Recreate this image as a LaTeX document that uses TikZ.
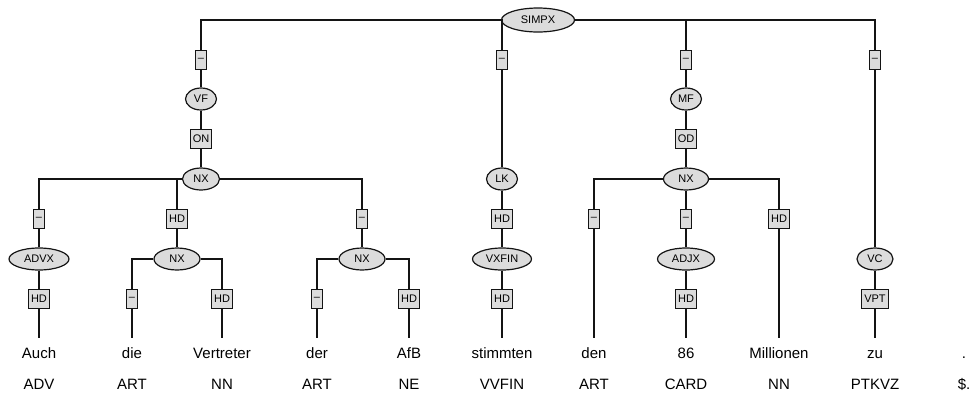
\documentclass[tikz,border=0pt]{standalone}
\usepackage{fontspec}
\setmainfont{Liberation Sans}
\usetikzlibrary{shapes.geometric}
\definecolor{nodefill}{RGB}{220,220,220}
\definecolor{linecol}{RGB}{20,20,20}
\begin{document}
\begin{tikzpicture}[x=1pt,y=-1pt, line width=1.2pt, draw=linecol,
 cat/.style={ellipse, draw=linecol, fill=nodefill, inner sep=0pt, minimum height=22pt, minimum width=#1, font=\fontsize{11}{13}\selectfont},
 lab/.style={rectangle, draw=linecol, fill=nodefill, inner xsep=2.5pt, inner ysep=0pt, minimum height=19pt, font=\fontsize{11}{13}\selectfont},
 word/.style={font=\fontsize{15}{18}\selectfont, inner xsep=0pt, inner ysep=8pt, text height=11pt, text depth=3pt, anchor=base},
 postag/.style={font=\fontsize{15}{18}\selectfont, inner sep=0pt, anchor=base}]
\useasboundingbox (0,0) rectangle (974,394);
% level 0
\node[cat=73pt, minimum height=24pt] (simpx) at (538,20) {SIMPX};
% level 1 edge labels
\node[lab] (e1) at (201,60) {–};
\node[lab] (e2) at (502,60) {–};
\node[lab] (e3) at (686,60) {–};
\node[lab] (e4) at (875,60) {–};
% fields
\node[cat=31pt] (vf) at (201,99) {VF};
\node[cat=31pt] (mf) at (686,99) {MF};
\node[lab] (on) at (201,139) {ON};
\node[lab] (od) at (686,139) {OD};
\node[cat=37pt] (nx1) at (201,179) {NX};
\node[cat=31pt] (lk) at (502,179) {LK};
\node[cat=45pt] (nx2) at (686,179) {NX};
% level 3 edge labels
\node[lab] (f1) at (39,219) {–};
\node[lab] (f2) at (177,219) {HD};
\node[lab] (f3) at (362,219) {–};
\node[lab] (f4) at (502,219) {HD};
\node[lab] (f5) at (594,219) {–};
\node[lab] (f6) at (686,219) {–};
\node[lab] (f7) at (779,219) {HD};
% level 4 nodes
\node[cat=60pt] (advx) at (39,259) {ADVX};
\node[cat=46pt] (nx3) at (177,259) {NX};
\node[cat=46pt] (nx4) at (362,259) {NX};
\node[cat=59pt] (vxfin) at (502,259) {VXFIN};
\node[cat=57pt] (adjx) at (686,259) {ADJX};
\node[cat=36pt] (vc) at (875,259) {VC};
% level 5 edge labels
\node[lab] (g1) at (39,299) {HD};
\node[lab] (g2) at (132,299) {–};
\node[lab] (g3) at (222,299) {HD};
\node[lab] (g4) at (317,299) {–};
\node[lab] (g5) at (409,299) {HD};
\node[lab] (g6) at (502,299) {HD};
\node[lab] (g7) at (686,299) {HD};
\node[lab] (g8) at (875,299) {VPT};
% words
\node[word] (w1) at (39,358) {Auch};
\node[word] (w2) at (132,358) {die};
\node[word] (w3) at (222,358) {Vertreter};
\node[word] (w4) at (317,358) {der};
\node[word] (w5) at (409,358) {AfB};
\node[word] (w6) at (502,358) {stimmten};
\node[word] (w7) at (594,358) {den};
\node[word] (w8) at (686,358) {86};
\node[word] (w9) at (779,358) {Millionen};
\node[word] (w10) at (875,358) {zu};
\node[word] (w11) at (964,358) {.};
% POS tags
\node[postag] (p1) at (39,389) {ADV};
\node[postag] (p2) at (132,389) {ART};
\node[postag] (p3) at (222,389) {NN};
\node[postag] (p4) at (317,389) {ART};
\node[postag] (p5) at (409,389) {NE};
\node[postag] (p6) at (502,389) {VVFIN};
\node[postag] (p7) at (594,389) {ART};
\node[postag] (p8) at (686,389) {CARD};
\node[postag] (p9) at (779,389) {NN};
\node[postag] (p10) at (875,389) {PTKVZ};
\node[postag] (p11) at (964,389) {\$.};
% connectors
\draw (simpx) -| (e1);
\draw (simpx) -| (e2);
\draw (simpx) -| (e3);
\draw (simpx) -| (e4);
\draw (e1) -- (vf); \draw (vf) -- (on); \draw (on) -- (nx1);
\draw (e2) -- (lk); \draw (lk) -- (f4); \draw (f4) -- (vxfin); \draw (vxfin) -- (g6); \draw (g6) -- (w6);
\draw (e3) -- (mf); \draw (mf) -- (od); \draw (od) -- (nx2);
\draw (e4) -- (vc); \draw (vc) -- (g8); \draw (g8) -- (w10);
\draw (nx1) -| (f1); \draw (nx1) -| (f2); \draw (nx1) -| (f3);
\draw (f1) -- (advx); \draw (advx) -- (g1); \draw (g1) -- (w1);
\draw (f2) -- (nx3); \draw (nx3) -| (g2); \draw (nx3) -| (g3); \draw (g2) -- (w2); \draw (g3) -- (w3);
\draw (f3) -- (nx4); \draw (nx4) -| (g4); \draw (nx4) -| (g5); \draw (g4) -- (w4); \draw (g5) -- (w5);
\draw (nx2) -| (f5); \draw (nx2) -- (f6); \draw (nx2) -| (f7);
\draw (f5) -- (w7); \draw (f6) -- (adjx); \draw (adjx) -- (g7); \draw (g7) -- (w8); \draw (f7) -- (w9);
\end{tikzpicture}
\end{document}
